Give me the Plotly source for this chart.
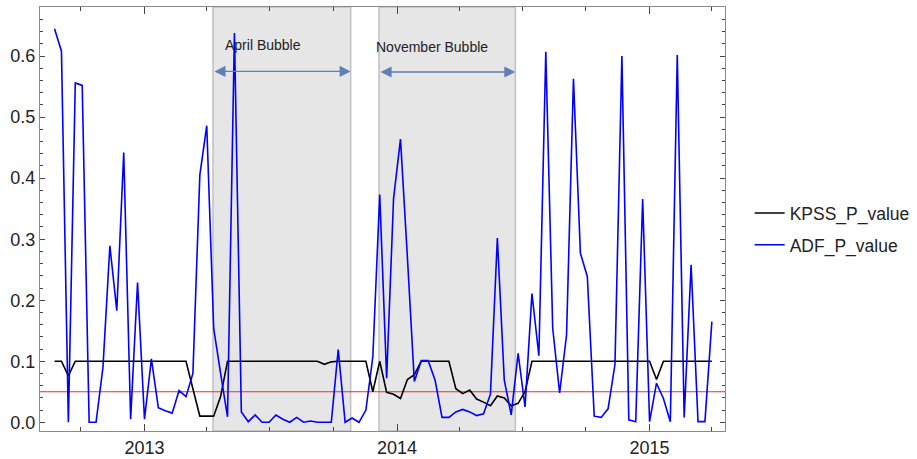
import pandas as pd
import plotly.graph_objects as go

# ---- data ----
start_date = "2012-08-24"
n_points = 96
dates = pd.date_range(start_date, periods=n_points, freq="10D")

kpss_p = [0.1, 0.1, 0.076, 0.1, 0.1, 0.1, 0.1, 0.1, 0.1, 0.1,
          0.1, 0.1, 0.1, 0.1, 0.1, 0.1, 0.1, 0.1, 0.1, 0.1,
          0.055, 0.01, 0.01, 0.01, 0.042, 0.1, 0.1, 0.1, 0.1, 0.1,
          0.1, 0.1, 0.1, 0.1, 0.1, 0.1, 0.1, 0.1, 0.1, 0.095,
          0.099, 0.1, 0.1, 0.1, 0.1, 0.1, 0.05, 0.1, 0.049, 0.046,
          0.039, 0.070, 0.078, 0.1, 0.1, 0.1, 0.1, 0.1, 0.055, 0.047,
          0.053, 0.038, 0.033, 0.027, 0.043, 0.040, 0.027, 0.031, 0.05, 0.1,
          0.1, 0.1, 0.1, 0.1, 0.1, 0.1, 0.1, 0.1, 0.1, 0.1,
          0.1, 0.1, 0.1, 0.1, 0.1, 0.1, 0.1, 0.07, 0.1, 0.1,
          0.1, 0.1, 0.1, 0.1, 0.1, 0.1]

adf_p = [0.645, 0.608, 0.0, 0.556, 0.552, 0.0, 0.0, 0.09, 0.289, 0.183,
         0.442, 0.005, 0.229, 0.005, 0.104, 0.024, 0.019, 0.015, 0.052, 0.042,
         0.080, 0.405, 0.486, 0.154, 0.080, 0.009, 0.638, 0.017, 0.001, 0.012,
         0.0, 0.0, 0.012, 0.005, 0.0, 0.008, 0.0, 0.002, 0.0, 0.0,
         0.0, 0.119, 0.0, 0.007, 0.0, 0.02, 0.107, 0.373, 0.072, 0.367,
         0.464, 0.27, 0.067, 0.101, 0.101, 0.069, 0.008, 0.008, 0.017, 0.021,
         0.017, 0.011, 0.014, 0.046, 0.302, 0.069, 0.012, 0.113, 0.025, 0.211,
         0.109, 0.607, 0.154, 0.048, 0.143, 0.563, 0.277, 0.239, 0.01, 0.008,
         0.022, 0.095, 0.600, 0.004, 0.001, 0.366, 0.001, 0.064, 0.039, 0.001,
         0.602, 0.008, 0.258, 0.001, 0.001, 0.165]

threshold = 0.05

bubble_names = ["April Bubble", "November Bubble"]
bubble_start = ["2013-04-10", "2013-12-06"]
bubble_end = ["2013-10-26", "2014-06-21"]
bubble_label_x = ["2013-06-22", "2014-02-20"]
bubble_label_y = [0.618, 0.615]
arrow_y = [0.575, 0.574]

x_range = ["2012-08-03", "2015-04-20"]
y_range = [-0.0143, 0.6805]

FONT = "Liberation Sans, Arial, sans-serif"

fig = go.Figure()
fig.add_trace(go.Scatter(x=dates, y=kpss_p, mode="lines", name="KPSS_P_value",
                         line=dict(color="black", width=1.6), legendgroup="a"))
fig.add_trace(go.Scatter(x=dates, y=adf_p, mode="lines", name="ADF_P_value",
                         line=dict(color="#0000ff", width=1.6), legendgroup="b"))

shapes = []
for s, e in zip(bubble_start, bubble_end):
    shapes.append(dict(type="rect", xref="x", yref="paper", x0=s, x1=e, y0=0, y1=1,
                       fillcolor="rgb(230,230,230)",
                       line=dict(color="rgb(192,192,192)", width=1.5), layer="below"))
shapes.append(dict(type="line", xref="paper", yref="y", x0=0, x1=1, y0=threshold, y1=threshold,
                   line=dict(color="rgb(230,50,50)", width=1.2), layer="below"))

annotations = []
for name, s, e, lx, ly, ay in zip(bubble_names, bubble_start, bubble_end,
                                  bubble_label_x, bubble_label_y, arrow_y):
    annotations.append(dict(x=e, y=ay, ax=s, ay=ay, xref="x", yref="y", axref="x", ayref="y",
                            text="", showarrow=True, arrowhead=2, startarrowhead=2,
                            arrowside="end+start", arrowsize=1.7, startarrowsize=1.7,
                            arrowwidth=1.3, arrowcolor="rgb(95,128,182)", standoff=0, startstandoff=0))
    annotations.append(dict(x=lx, y=ly, xref="x", yref="y", text=name, showarrow=False,
                            font=dict(family=FONT, size=14, color="#222")))

fig.update_layout(
    width=917, height=459,
    margin=dict(l=40, r=192, t=7, b=28, autoexpand=False),
    paper_bgcolor="white", plot_bgcolor="white",
    font=dict(family=FONT, size=18, color="#222"),
    shapes=shapes, annotations=annotations,
    showlegend=True,
    legend=dict(x=1.036, xanchor="left", y=0.476, yanchor="middle",
                font=dict(family=FONT, size=17.5, color="#222"),
                traceorder="grouped", tracegroupgap=6, bgcolor="rgba(0,0,0,0)"),
    hovermode=False,
)

fig.update_xaxes(type="date", range=x_range, showgrid=False, zeroline=False, automargin=False,
                 showline=True, linecolor="#8a8a8a", linewidth=1, mirror="allticks",
                 ticks="inside", ticklen=7, tickcolor="#444", tickwidth=1,
                 tick0="2013-01-01", dtick="M12", tickformat="%Y",
                 tickfont=dict(family=FONT, size=18, color="#222"),
                 minor=dict(ticks="inside", ticklen=4, tickcolor="#444", dtick="M3",
                            tick0="2013-01-01", showgrid=False))
fig.update_yaxes(range=y_range, showgrid=False, zeroline=False, automargin=False,
                 showline=True, linecolor="#8a8a8a", linewidth=1, mirror="allticks",
                 ticks="inside", ticklen=5, tickcolor="#444", tickwidth=1,
                 tick0=0, dtick=0.1, tickformat=".1f",
                 tickfont=dict(family=FONT, size=18, color="#222"),
                 minor=dict(ticks="inside", ticklen=3, tickcolor="#444", dtick=0.02, tick0=0,
                            showgrid=False))

fig.write_html("out.html")
